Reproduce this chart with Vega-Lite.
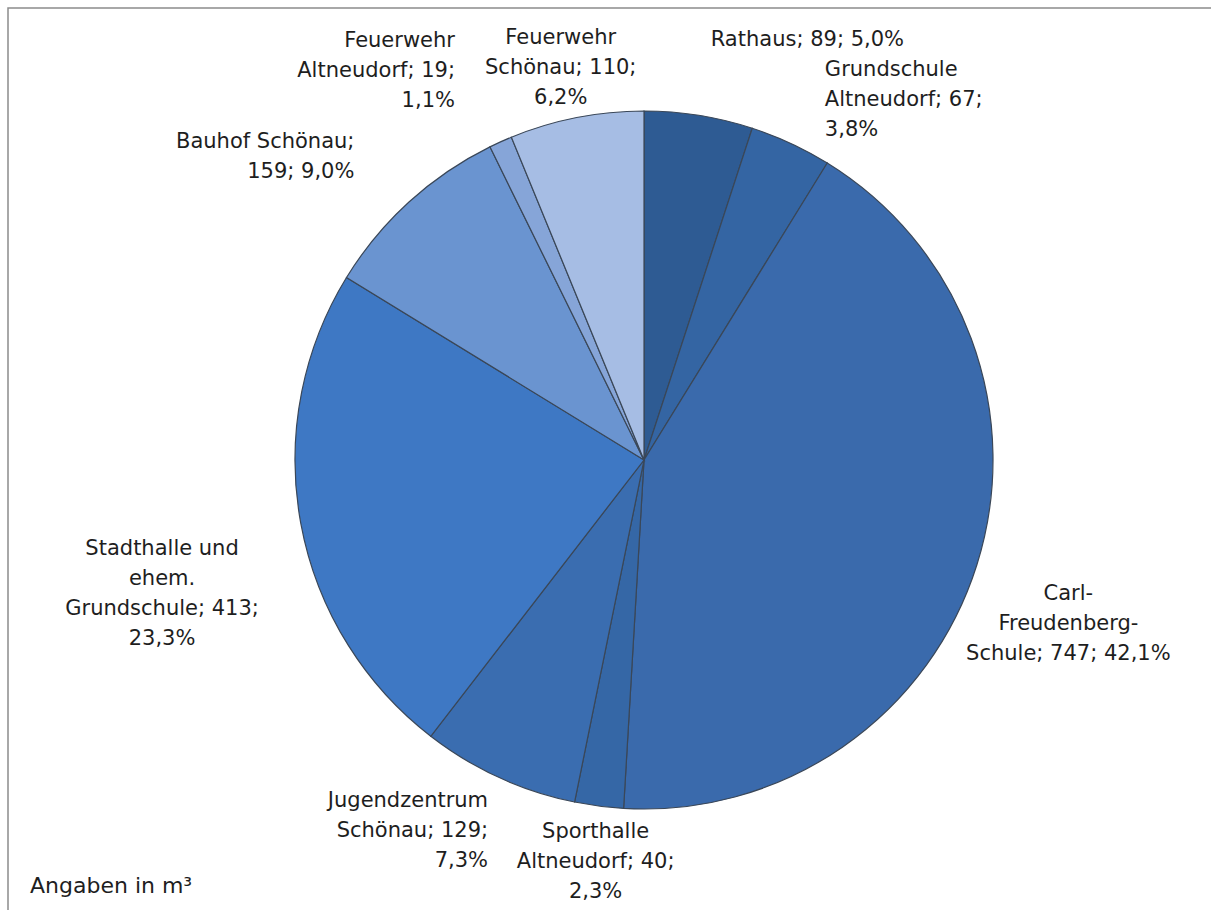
{
  "$schema": "https://vega.github.io/schema/vega-lite/v6.json",
  "autosize": {"type": "none"},
  "padding": {"left": 8, "top": 8, "right": 0, "bottom": 0},
  "width": 1272,
  "height": 904,
  "background": "white",
  "view": {"stroke": "#8c8c8c", "strokeWidth": 1.5},
  "config": {
    "view": {"stroke": "#8c8c8c", "strokeWidth": 1.5},
    "font": "DejaVu Sans",
    "text": {"font": "DejaVu Sans", "fontSize": 21, "lineHeight": 30, "color": "#1e1e1e", "lineBreak": "\n"}
  },
  "title": {
    "text": "Angaben in m³",
    "orient": "bottom",
    "anchor": "start",
    "frame": "group",
    "offset": -80,
    "dx": 22,
    "font": "DejaVu Sans",
    "fontSize": 22,
    "fontWeight": "normal",
    "color": "#1e1e1e"
  },
  "data": {
    "values": [
      {"idx": 1, "name": "Rathaus", "value": 89, "label": "Rathaus; 89; 5,0%"},
      {"idx": 2, "name": "Grundschule Altneudorf", "value": 67, "label": "Grundschule\nAltneudorf; 67;\n3,8%"},
      {"idx": 3, "name": "Carl-Freudenberg-Schule", "value": 747, "label": "Carl-\nFreudenberg-\nSchule; 747; 42,1%"},
      {"idx": 4, "name": "Sporthalle Altneudorf", "value": 40, "label": "Sporthalle\nAltneudorf; 40;\n2,3%"},
      {"idx": 5, "name": "Jugendzentrum Schönau", "value": 129, "label": "Jugendzentrum\nSchönau; 129;\n7,3%"},
      {"idx": 6, "name": "Stadthalle und ehem. Grundschule", "value": 413, "label": "Stadthalle und\nehem.\nGrundschule; 413;\n23,3%"},
      {"idx": 7, "name": "Bauhof Schönau", "value": 159, "label": "Bauhof Schönau;\n159; 9,0%"},
      {"idx": 8, "name": "Feuerwehr Altneudorf", "value": 19, "label": "Feuerwehr\nAltneudorf; 19;\n1,1%"},
      {"idx": 9, "name": "Feuerwehr Schönau", "value": 110, "label": "Feuerwehr\nSchönau; 110;\n6,2%"}
    ]
  },
  "encoding": {
    "theta": {"field": "value", "type": "quantitative", "stack": true},
    "order": {"field": "idx", "type": "quantitative"}
  },
  "layer": [
    {
      "mark": {"type": "arc", "outerRadius": 349, "stroke": "#3a4758", "strokeWidth": 1.2},
      "encoding": {
        "color": {
          "field": "name",
          "type": "nominal",
          "legend": null,
          "scale": {
            "domain": ["Rathaus", "Grundschule Altneudorf", "Carl-Freudenberg-Schule", "Sporthalle Altneudorf", "Jugendzentrum Schönau", "Stadthalle und ehem. Grundschule", "Bauhof Schönau", "Feuerwehr Altneudorf", "Feuerwehr Schönau"],
            "range": ["#2e5b93", "#3465a3", "#3a6aac", "#3567a6", "#3a6db0", "#3e78c4", "#6a94d0", "#86a5d8", "#a6bde4"]
          }
        }
      }
    },
    {
      "mark": {"type": "text", "radius": 425, "align": "left", "baseline": "middle"},
      "encoding": {"text": {"condition": {"test": "datum.name === 'Rathaus'", "field": "label"}, "value": ""}}
    },
    {
      "mark": {"type": "text", "radius": 430, "align": "left", "baseline": "middle"},
      "encoding": {"text": {"condition": {"test": "datum.name === 'Grundschule Altneudorf'", "field": "label"}, "value": ""}}
    },
    {
      "mark": {"type": "text", "radius": 445, "align": "center", "baseline": "middle"},
      "encoding": {"text": {"condition": {"test": "datum.name === 'Carl-Freudenberg-Schule'", "field": "label"}, "value": ""}}
    },
    {
      "mark": {"type": "text", "radius": 375, "align": "center", "baseline": "middle"},
      "encoding": {"text": {"condition": {"test": "datum.name === 'Sporthalle Altneudorf'", "field": "label"}, "value": ""}}
    },
    {
      "mark": {"type": "text", "radius": 375, "align": "right", "baseline": "middle"},
      "encoding": {"text": {"condition": {"test": "datum.name === 'Jugendzentrum Schönau'", "field": "label"}, "value": ""}}
    },
    {
      "mark": {"type": "text", "radius": 490, "align": "center", "baseline": "middle"},
      "encoding": {"text": {"condition": {"test": "datum.name === 'Stadthalle und ehem. Grundschule'", "field": "label"}, "value": ""}}
    },
    {
      "mark": {"type": "text", "radius": 430, "align": "right", "baseline": "middle"},
      "encoding": {"text": {"condition": {"test": "datum.name === 'Bauhof Schönau'", "field": "label"}, "value": ""}}
    },
    {
      "mark": {"type": "text", "radius": 460, "align": "right", "baseline": "middle"},
      "encoding": {"text": {"condition": {"test": "datum.name === 'Feuerwehr Altneudorf'", "field": "label"}, "value": ""}}
    },
    {
      "mark": {"type": "text", "radius": 430, "align": "center", "baseline": "middle"},
      "encoding": {"text": {"condition": {"test": "datum.name === 'Feuerwehr Schönau'", "field": "label"}, "value": ""}}
    }
  ]
}
